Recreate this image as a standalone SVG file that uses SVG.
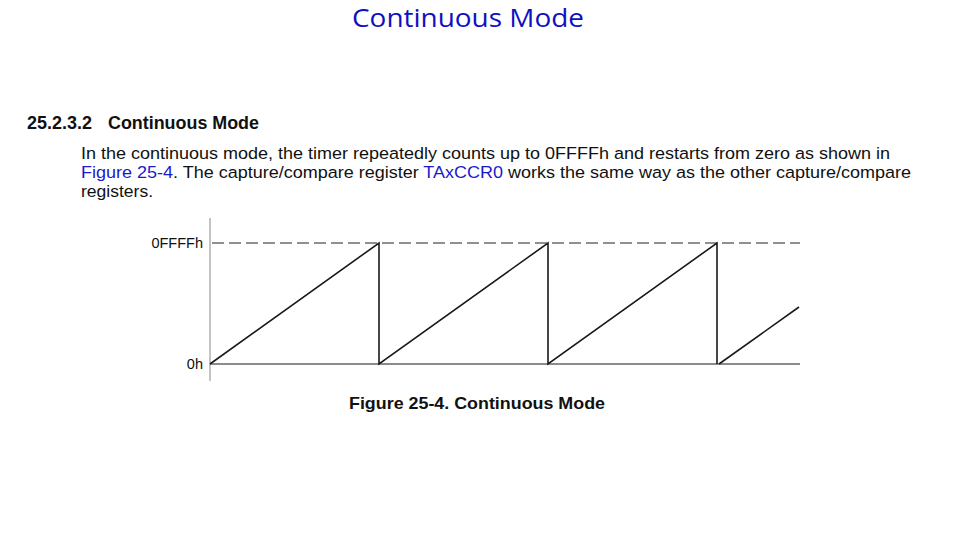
<svg xmlns="http://www.w3.org/2000/svg" width="960" height="540" viewBox="0 0 960 540">
<style>
.t{font-family:"Liberation Sans",Arial,sans-serif;fill:#111}
.b{font-weight:bold}
.lnk{fill:#1a1acc}
.ax{stroke:#888;stroke-width:1;fill:none}
.base{stroke:#666;stroke-width:1.5;fill:none}
.saw{stroke:#1a1a1a;stroke-width:1.6;fill:none}
.dash{stroke:#222;stroke-width:1.1;stroke-dasharray:12 5;fill:none}
</style>
<rect width="960" height="540" fill="#fff"/>
<text x="468" y="27" text-anchor="middle" font-family="'Open Sans','Liberation Sans',sans-serif" font-size="25" fill="#1010c0" textLength="232" lengthAdjust="spacingAndGlyphs">Continuous Mode</text>
<g id="heading">
<text class="t b" x="27" y="129" font-size="17.5" textLength="65" lengthAdjust="spacingAndGlyphs">25.2.3.2</text>
<text class="t b" x="108" y="129" font-size="17.5" textLength="151" lengthAdjust="spacingAndGlyphs">Continuous Mode</text>
</g>
<g id="body" class="t" font-size="17.2">
<text x="81" y="159" textLength="809" lengthAdjust="spacingAndGlyphs">In the continuous mode, the timer repeatedly counts up to 0FFFFh and restarts from zero as shown in</text>
<text x="81" y="178" textLength="830" lengthAdjust="spacingAndGlyphs"><tspan class="lnk">Figure 25-4</tspan>. The capture/compare register <tspan class="lnk">TAxCCR0</tspan> works the same way as the other capture/compare</text>
<text x="81" y="197" textLength="72" lengthAdjust="spacingAndGlyphs">registers.</text>
</g>
<g id="chart">
<line class="ax" x1="210" y1="218" x2="210" y2="381"/>
<line class="dash" x1="212" y1="243" x2="800" y2="243"/>
<line class="base" x1="210" y1="364" x2="800" y2="364"/>
<polyline class="saw" points="210,364 379,243 379,364 548,243 548,364 717,243 717,364"/>
<line class="saw" x1="719" y1="364" x2="799" y2="307"/>
<text class="t" x="203" y="247.5" font-size="14.5" text-anchor="end" fill="#333">0FFFFh</text>
<text class="t" x="203" y="368.5" font-size="14.5" text-anchor="end" fill="#333">0h</text>
</g>
<text class="t b" x="349" y="409" font-size="17" textLength="256" lengthAdjust="spacingAndGlyphs">Figure 25-4. Continuous Mode</text>
</svg>
